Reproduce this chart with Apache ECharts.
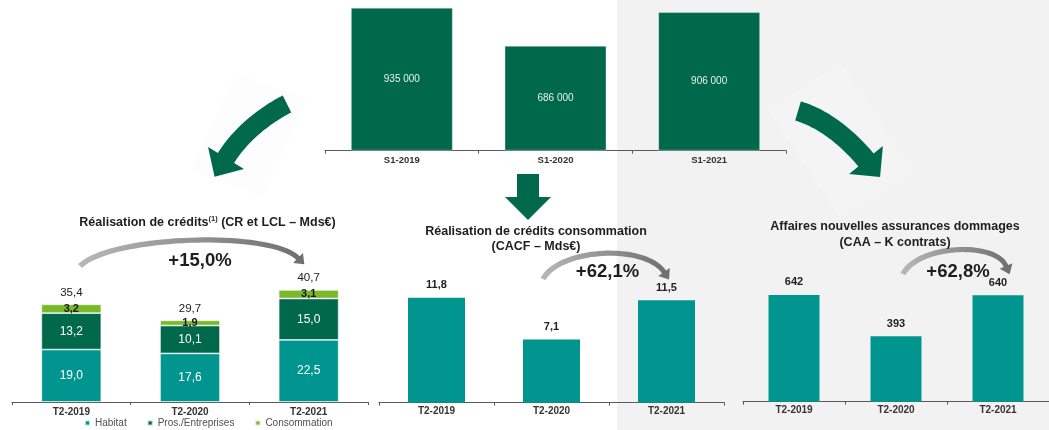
<!DOCTYPE html>
<html lang="fr">
<head>
<meta charset="utf-8">
<title>Activité commerciale</title>
<script src="https://cdn.jsdelivr.net/npm/echarts@6/dist/echarts.min.js"></script>
<style>
  html, body { margin: 0; padding: 0; background: #ffffff; }
  #chart { width: 1049px; height: 430px; }
</style>
</head>
<body>
<div id="chart"></div>
<script>
// ---- Data ----
const semesterCategories = ['S1-2019', 'S1-2020', 'S1-2021'];
const semesterValues = [935000, 686000, 906000];

const quarterCategories = ['T2-2019', 'T2-2020', 'T2-2021'];
const habitatValues = [19.0, 17.6, 22.5];
const prosValues = [13.2, 10.1, 15.0];
const consoStackValues = [3.2, 1.9, 3.1];
const creditTotals = [35.4, 29.7, 40.7];

const cacfValues = [11.8, 7.1, 11.5];
const caaValues = [642, 393, 640];

const growthLabels = ['+15,0%', '+62,1%', '+62,8%'];

// ---- Styles ----
const FONT = '"Liberation Sans", Arial, Helvetica, sans-serif';
const DARK_GREEN = '#00694C';
const TEAL = '#00968F';
const LIGHT_GREEN = '#7AB929';
const AXIS_COLOR = '#5a5a5a';
const TEXT_DARK = '#1e1e1e';

const frDecimal = v => v.toFixed(1).replace('.', ',');
const frThousands = v => String(v).replace(/\B(?=(\d{3})+(?!\d))/g, ' ');

// Curved arrow outline built along a cubic Bezier centre line
function curvedArrow(p, w0, w1, hw, hl) {
  const [p0, c1, c2, p1] = p;
  const bez = t => {
    const u = 1 - t;
    return [
      u * u * u * p0[0] + 3 * u * u * t * c1[0] + 3 * u * t * t * c2[0] + t * t * t * p1[0],
      u * u * u * p0[1] + 3 * u * u * t * c1[1] + 3 * u * t * t * c2[1] + t * t * t * p1[1]
    ];
  };
  const der = t => {
    const u = 1 - t;
    const dx = 3 * u * u * (c1[0] - p0[0]) + 6 * u * t * (c2[0] - c1[0]) + 3 * t * t * (p1[0] - c2[0]);
    const dy = 3 * u * u * (c1[1] - p0[1]) + 6 * u * t * (c2[1] - c1[1]) + 3 * t * t * (p1[1] - c2[1]);
    const l = Math.hypot(dx, dy) || 1;
    return [dx / l, dy / l];
  };
  const N = 40, left = [], right = [];
  for (let i = 0; i <= N; i++) {
    const t = i / N, q = bez(t), d = der(t), n = [-d[1], d[0]];
    const w = (w0 + (w1 - w0) * t) / 2;
    left.push([q[0] + n[0] * w, q[1] + n[1] * w]);
    right.push([q[0] - n[0] * w, q[1] - n[1] * w]);
  }
  const d = der(1), n = [-d[1], d[0]];
  const tip = [p1[0] + d[0] * hl, p1[1] + d[1] * hl];
  const wl = [p1[0] + n[0] * hw, p1[1] + n[1] * hw];
  const wr = [p1[0] - n[0] * hw, p1[1] - n[1] * hw];
  return left.concat([wl, tip, wr], right.reverse());
}

const grayArcFill = {
  type: 'linear', x: 0, y: 0, x2: 1, y2: 0,
  colorStops: [{ offset: 0, color: '#b8b8b8' }, { offset: 1, color: '#6e6e6e' }]
};

function catAxis(gridIndex, data, fontSize, margin) {
  return {
    type: 'category', gridIndex, data,
    axisLine: { lineStyle: { color: AXIS_COLOR, width: 1.2 } },
    axisTick: { show: true, length: 3, lineStyle: { color: AXIS_COLOR, width: 1 } },
    axisLabel: { fontFamily: FONT, fontSize, fontWeight: 'bold', color: '#333', margin }
  };
}
function valAxis(gridIndex, max) {
  return {
    type: 'value', gridIndex, min: 0, max,
    axisLine: { show: false }, axisTick: { show: false },
    axisLabel: { show: false }, splitLine: { show: false }
  };
}

const chart = echarts.init(document.getElementById('chart'), null, { renderer: 'canvas' });

const option = {
  animation: false,
  backgroundColor: '#ffffff',
  textStyle: { fontFamily: FONT },
  grid: [
    { left: 325, top: 0, width: 461, height: 150.7 },
    { left: 12, top: 264, width: 356, height: 138 },
    { left: 379, top: 269.2, width: 345, height: 133.5 },
    { left: 743, top: 268.7, width: 314, height: 133 }
  ],
  xAxis: [
    catAxis(0, semesterCategories, 9.5, 5),
    catAxis(1, quarterCategories, 10, 5),
    catAxis(2, quarterCategories, 10, 4),
    catAxis(3, quarterCategories, 10, 4)
  ],
  yAxis: [
    valAxis(0, 985000),
    valAxis(1, 50),
    valAxis(2, 15),
    valAxis(3, 800)
  ],
  legend: {
    data: ['Habitat', 'Pros./Entreprises', 'Consommation'],
    left: 79, top: 413,
    icon: 'rect', itemWidth: 5, itemHeight: 5, itemGap: 20,
    textStyle: { fontFamily: FONT, fontSize: 10, color: '#505050' }
  },
  series: [
    {
      type: 'bar', name: 'Semestre', xAxisIndex: 0, yAxisIndex: 0,
      data: semesterValues, barWidth: 102,
      itemStyle: { color: DARK_GREEN, borderColor: 'rgba(255,255,255,0.35)', borderWidth: 1 },
      label: {
        show: true, position: 'inside', color: '#e8f0ec', fontSize: 10,
        fontFamily: FONT, formatter: p => frThousands(p.value)
      }
    },
    {
      type: 'bar', name: 'Habitat', stack: 'credits', xAxisIndex: 1, yAxisIndex: 1,
      data: habitatValues, barWidth: 60,
      itemStyle: { color: TEAL, borderColor: 'rgba(255,255,255,0.7)', borderWidth: 0.8 },
      label: { show: true, position: 'inside', color: '#ffffff', fontSize: 12, fontFamily: FONT, formatter: p => frDecimal(p.value) }
    },
    {
      type: 'bar', name: 'Pros./Entreprises', stack: 'credits', xAxisIndex: 1, yAxisIndex: 1,
      data: prosValues, barWidth: 60,
      itemStyle: { color: DARK_GREEN, borderColor: 'rgba(255,255,255,0.7)', borderWidth: 0.8 },
      label: { show: true, position: 'inside', color: '#ffffff', fontSize: 12, fontFamily: FONT, formatter: p => frDecimal(p.value) }
    },
    {
      type: 'bar', name: 'Consommation', stack: 'credits', xAxisIndex: 1, yAxisIndex: 1,
      data: consoStackValues, barWidth: 60,
      itemStyle: { color: LIGHT_GREEN, borderColor: 'rgba(255,255,255,0.7)', borderWidth: 0.8 },
      label: { show: true, position: 'inside', color: '#1a1a1a', fontSize: 11, fontWeight: 'bold', fontFamily: FONT, formatter: p => frDecimal(p.value) }
    },
    {
      type: 'scatter', name: 'Total', xAxisIndex: 1, yAxisIndex: 1,
      data: creditTotals, symbol: 'rect', symbolSize: [1, 1],
      itemStyle: { color: 'rgba(0,0,0,0)', opacity: 1 },
      label: { show: true, position: 'top', distance: 5, color: '#1a1a1a', opacity: 1, fontSize: 11.5, fontFamily: FONT, formatter: p => frDecimal(p.value) }
    },
    {
      type: 'bar', name: 'CACF', xAxisIndex: 2, yAxisIndex: 2,
      data: cacfValues, barWidth: 57,
      itemStyle: { color: TEAL },
      label: { show: true, position: 'top', distance: 7, color: TEXT_DARK, fontSize: 11, fontWeight: 'bold', fontFamily: FONT, formatter: p => frDecimal(p.value) }
    },
    {
      type: 'bar', name: 'CAA', xAxisIndex: 3, yAxisIndex: 3,
      data: caaValues, barWidth: 51,
      itemStyle: { color: TEAL },
      label: { show: true, position: 'top', distance: 7, color: TEXT_DARK, fontSize: 11, fontWeight: 'bold', fontFamily: FONT }
    }
  ],
  graphic: [
    // light panel on the right-hand side
    { type: 'rect', z: -100, silent: true, shape: { x: 617, y: 0, width: 432, height: 430 }, style: { fill: '#f2f2f2' } },
    // faint tiles behind the curved arrows
    { type: 'polygon', z: -50, silent: true, shape: { points: [[190, 170], [236, 72], [308, 100], [262, 197]] }, style: { fill: 'rgba(0,0,0,0.008)' } },
    { type: 'polygon', z: -50, silent: true, shape: { points: [[768, 110], [840, 63], [913, 173], [840, 217]] }, style: { fill: 'rgba(255,255,255,0.18)' } },
    // green flow arrows
    { type: 'polygon', z: 10, shape: { points: curvedArrow([[287, 104], [265, 115], [240, 135], [226, 158]], 19, 19, 21, 22) }, style: { fill: DARK_GREEN } },
    { type: 'polygon', z: 10, shape: { points: curvedArrow([[798, 111], [822, 118], [846, 136], [866, 160]], 20, 20, 22, 22) }, style: { fill: DARK_GREEN } },
    { type: 'polygon', z: 10, shape: { points: [[517, 174], [539, 174], [539, 197], [551, 197], [528, 220], [505, 197], [517, 197]] }, style: { fill: DARK_GREEN } },
    // grey growth arcs
    { type: 'polygon', z: 10, shape: { points: curvedArrow([[80, 266], [110, 236], [270, 230], [298, 258]], 5.5, 5, 7, 9) }, style: { fill: grayArcFill } },
    { type: 'polygon', z: 10, shape: { points: curvedArrow([[543, 279], [560, 248], [645, 244], [664, 272]], 5.5, 5, 7, 9) }, style: { fill: grayArcFill } },
    { type: 'polygon', z: 10, shape: { points: curvedArrow([[903, 274], [918, 245], [995, 241], [1006, 266]], 5.5, 5, 7, 9) }, style: { fill: grayArcFill } },
    // growth percentages
    { type: 'text', z: 12, x: 200, y: 261, style: { text: growthLabels[0], fontFamily: FONT, fontSize: 18.5, fontWeight: 'bold', fill: TEXT_DARK, align: 'center', verticalAlign: 'middle' } },
    { type: 'text', z: 12, x: 607.5, y: 272, style: { text: growthLabels[1], fontFamily: FONT, fontSize: 18.5, fontWeight: 'bold', fill: TEXT_DARK, align: 'center', verticalAlign: 'middle' } },
    { type: 'text', z: 12, x: 958, y: 272, style: { text: growthLabels[2], fontFamily: FONT, fontSize: 18.5, fontWeight: 'bold', fill: TEXT_DARK, align: 'center', verticalAlign: 'middle' } },
    // chart titles
    {
      type: 'text', z: 12, x: 207.5, y: 222.7,
      style: {
        text: 'Réalisation de crédits{sup|(1)} (CR et LCL – Mds€)',
        fontFamily: FONT, fontSize: 12.5, fontWeight: 'bold', fill: TEXT_DARK,
        lineHeight: 15, align: 'center', verticalAlign: 'middle',
        rich: { sup: { fontFamily: FONT, fontSize: 7.5, fontWeight: 'bold', fill: TEXT_DARK, verticalAlign: 'top', lineHeight: 9 } }
      }
    },
    {
      type: 'text', z: 12, x: 536, y: 239,
      style: {
        text: 'Réalisation de crédits consommation\n(CACF – Mds€)',
        fontFamily: FONT, fontSize: 12.5, fontWeight: 'bold', fill: TEXT_DARK,
        lineHeight: 14.5, align: 'center', verticalAlign: 'middle'
      }
    },
    {
      type: 'text', z: 12, x: 895, y: 234.7,
      style: {
        text: 'Affaires nouvelles assurances dommages\n(CAA – K contrats)',
        fontFamily: FONT, fontSize: 12.5, fontWeight: 'bold', fill: TEXT_DARK,
        lineHeight: 16, align: 'center', verticalAlign: 'middle'
      }
    }
  ]
};

chart.setOption(option);
</script>
</body>
</html>
